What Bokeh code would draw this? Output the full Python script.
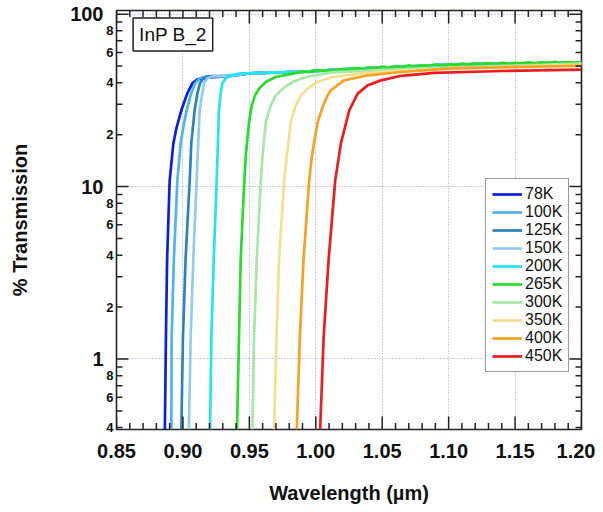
from bokeh.plotting import figure
from bokeh.models import (FixedTicker, LogAxis, Label, PrintfTickFormatter,
                          CustomJSTickFormatter, Range1d, Arrow, ColumnDataSource)
from bokeh.embed import file_html
from bokeh.resources import INLINE

FONT = "Liberation Sans"

# ---------------- data ----------------
series_names = ["78K", "100K", "125K", "150K", "200K", "265K", "300K", "350K", "400K", "450K"]
series_colors = ["#0a1ee6", "#4fb3ec", "#2b82c0", "#90ccf2", "#20e6f0",
                 "#28dc28", "#a6e8a6", "#f2e08c", "#f7a021", "#ee1c1c"]

wl_78K = [0.8864, 0.8872, 0.8881, 0.8900, 0.8928, 0.8952, 0.8988, 0.9033, 0.9071, 0.9109, 0.9209,
          0.9360, 0.9511, 0.9888, 1.0265, 1.0642, 1.1019, 1.1396, 1.2000]
tr_78K = [0.39, 1.33, 3.81, 10.8, 17.8, 22.0, 27.7, 34.7, 39.7, 41.9, 43.0,
          43.9, 45.4, 46.3, 48.2, 49.5, 50.9, 51.6, 52.2]

wl_100K = [0.8913, 0.8915, 0.8932, 0.8958, 0.8983, 0.9002, 0.9028, 0.9062, 0.9092, 0.9126, 0.9179,
           0.9360, 0.9511, 0.9888, 1.0265, 1.0642, 1.1019, 1.1396, 1.2000]
tr_100K = [0.39, 1.33, 3.81, 10.8, 17.8, 22.0, 27.7, 34.7, 39.7, 42.5, 43.6,
           43.9, 45.4, 46.3, 48.2, 49.5, 50.9, 51.6, 52.2]

wl_125K = [0.8988, 0.9000, 0.9020, 0.9051, 0.9063, 0.9088, 0.9109, 0.9128, 0.9154, 0.9196,
           0.9360, 0.9511, 0.9888, 1.0265, 1.0642, 1.1019, 1.1396, 1.2000]
tr_125K = [0.39, 1.33, 3.81, 10.8, 17.8, 27.7, 34.7, 39.7, 42.5, 43.6,
           43.9, 45.4, 46.3, 48.2, 49.5, 50.9, 51.6, 52.2]

wl_150K = [0.9045, 0.9058, 0.9078, 0.9103, 0.9115, 0.9126, 0.9146, 0.9158, 0.9184, 0.9234,
           0.9360, 0.9511, 0.9888, 1.0265, 1.0642, 1.1019, 1.1396, 1.2000]
tr_150K = [0.39, 1.33, 3.81, 10.8, 17.8, 27.7, 34.7, 39.7, 42.5, 43.6,
           43.9, 45.4, 46.3, 48.2, 49.5, 50.9, 51.6, 52.2]

wl_200K = [0.9204, 0.9214, 0.9232, 0.9254, 0.9271, 0.9284, 0.9297, 0.9322, 0.9360, 0.9435,
           0.9586, 0.9888, 1.0265, 1.0642, 1.1019, 1.1396, 1.2000]
tr_200K = [0.39, 1.33, 3.81, 10.8, 27.7, 34.7, 39.7, 42.5, 44.2, 45.4,
           45.6, 46.3, 48.2, 49.5, 50.9, 51.6, 52.2]

wl_265K = [0.9407, 0.9422, 0.9435, 0.9462, 0.9473, 0.9498, 0.9518, 0.9543, 0.9573, 0.9624, 0.9699,
           0.9825, 0.9888,
           0.990, 0.995, 1.000, 1.005, 1.010, 1.015, 1.020, 1.025, 1.030, 1.035, 1.040, 1.045,
           1.050, 1.055, 1.060, 1.065, 1.070, 1.075, 1.080, 1.085, 1.090, 1.095, 1.100, 1.105,
           1.110, 1.115, 1.120, 1.125, 1.130, 1.135, 1.140, 1.145, 1.150, 1.155, 1.160, 1.165,
           1.170, 1.175, 1.180, 1.185, 1.190, 1.195, 1.200]
tr_265K = [0.39, 1.33, 3.81, 10.8, 15.1, 23.7, 29.6, 33.8, 37.0, 40.4, 43.2,
           45.2, 46.2,
           46.6, 46.1, 47.3, 46.8, 47.4, 47.0, 48.2, 47.5, 48.6, 47.9, 48.8, 48.5,
           49.6, 48.8, 49.9, 49.2, 50.5, 49.6, 50.4, 50.2, 51.1, 50.2, 51.2, 50.8,
           51.6, 50.9, 51.7, 51.3, 52.0, 51.2, 52.3, 51.5, 52.2, 51.8, 52.6, 51.9,
           52.5, 52.0, 52.9, 52.1, 52.7, 52.3, 52.6]

wl_300K = [0.9523, 0.9535, 0.9556, 0.9586, 0.9599, 0.9624, 0.9661, 0.9699, 0.9750, 0.9825, 0.9925,
           1.0114, 1.0793, 1.2000]
tr_300K = [0.39, 1.33, 3.81, 10.8, 15.1, 23.7, 29.6, 33.8, 37.0, 40.4, 43.2,
           46.0, 48.5, 51.6]

wl_350K = [0.9686, 0.9704, 0.9724, 0.9762, 0.9782, 0.9812, 0.9850, 0.9888, 0.9938, 1.0014, 1.0127,
           1.0416, 1.1019, 1.2000]
tr_350K = [0.39, 1.33, 3.81, 10.8, 15.1, 23.7, 29.6, 33.8, 37.0, 40.4, 43.2,
           46.0, 48.5, 50.9]

wl_400K = [0.9857, 0.9880, 0.9908, 0.9950, 0.9971, 1.0014, 1.0056, 1.0089, 1.0114, 1.0212, 1.0391,
           1.0642, 1.1019, 1.2000]
tr_400K = [0.39, 1.33, 3.81, 10.8, 15.1, 23.7, 29.6, 33.8, 36.2, 41.3, 44.2,
           46.2, 48.5, 50.2]

wl_450K = [1.0033, 1.0059, 1.0097, 1.0146, 1.0189, 1.0252, 1.0315, 1.0391, 1.0491, 1.0642, 1.0893,
           1.1396, 1.2000]
tr_450K = [0.39, 1.33, 3.81, 10.8, 17.8, 27.7, 34.6, 38.7, 41.3, 43.9, 45.6,
           46.8, 47.7]

wavelengths = [wl_78K, wl_100K, wl_125K, wl_150K, wl_200K, wl_265K, wl_300K, wl_350K, wl_400K, wl_450K]
transmissions = [tr_78K, tr_100K, tr_125K, tr_150K, tr_200K, tr_265K, tr_300K, tr_350K, tr_400K, tr_450K]

x_major_ticks = [0.85, 0.90, 0.95, 1.00, 1.05, 1.10, 1.15, 1.20]
x_minor_ticks = [0.86, 0.87, 0.88, 0.89, 0.91, 0.92, 0.93, 0.94, 0.96, 0.97, 0.98, 0.99,
                 1.01, 1.02, 1.03, 1.04, 1.06, 1.07, 1.08, 1.09, 1.11, 1.12, 1.13, 1.14,
                 1.16, 1.17, 1.18, 1.19]
x_grid_ticks = [0.90, 0.95, 1.00, 1.05, 1.10, 1.15]
y_major_ticks = [1, 10, 100]
y_minor_ticks = [0.4, 0.5, 0.6, 0.7, 0.8, 0.9, 2, 3, 4, 5, 6, 7, 8, 9,
                 20, 30, 40, 50, 60, 70, 80, 90]
y_minor_label_vals = [0.4, 0.6, 0.8, 2, 4, 6, 8, 20, 40, 60, 80]
y_minor_label_text = ["4", "6", "8", "2", "4", "6", "8", "2", "4", "6", "8"]

X0, X1 = 0.85, 1.20
Y0, Y1 = 0.39, 105

# ---------------- figure ----------------
p = figure(width=595, height=508, x_range=Range1d(X0, X1), y_range=Range1d(Y0, Y1),
           y_axis_type="log", output_backend="svg", toolbar_location=None,
           min_border_left=116, min_border_right=14, min_border_top=10, min_border_bottom=79)
p.background_fill_color = "white"
p.border_fill_color = "white"
p.outline_line_color = "#222222"
p.outline_line_width = 1.6

# grid
p.xgrid.ticker = FixedTicker(ticks=x_grid_ticks)
p.ygrid.ticker = FixedTicker(ticks=y_major_ticks)
for g in (p.xgrid, p.ygrid):
    g.grid_line_color = "#9a9ae0"
    g.grid_line_dash = "1 2"
    g.grid_line_width = 1

for name, col, xs, ys in zip(series_names, series_colors, wavelengths, transmissions):
    p.line(xs, ys, line_color=col, line_width=2.7, legend_label=name)

# inward tick marks on all four sides, drawn as head-less arrow annotations
VMAJ, VMIN = 1.19, 1.09      # ~13 px and ~7 px along the log axis
HMAJ, HMIN = 0.009, 0.0045   # ~12 px and ~6 px along the wavelength axis
tx0, ty0, tx1, ty1 = [], [], [], []
for xs, f in ((x_major_ticks, VMAJ), (x_minor_ticks, VMIN)):
    for xv in xs:
        tx0 += [xv, xv]
        ty0 += [Y0, Y1]
        tx1 += [xv, xv]
        ty1 += [Y0 * f, Y1 / f]
for ys, d in ((y_major_ticks, HMAJ), (y_minor_ticks, HMIN)):
    for yv in ys:
        tx0 += [X0, X1]
        ty0 += [yv, yv]
        tx1 += [X0 + d, X1 - d]
        ty1 += [yv, yv]
tick_src = ColumnDataSource(dict(x0=tx0, y0=ty0, x1=tx1, y1=ty1))
p.add_layout(Arrow(start=None, end=None, x_start="x0", y_start="y0", x_end="x1", y_end="y1",
                   source=tick_src, line_color="#222222", line_width=1.5))

def no_ticks(ax):
    ax.major_tick_in = 0
    ax.major_tick_out = 0
    ax.minor_tick_in = 0
    ax.minor_tick_out = 0
    ax.major_tick_line_color = None
    ax.minor_tick_line_color = None
    ax.axis_line_color = None

# bottom axis
xa = p.xaxis[0]
no_ticks(xa)
xa.ticker = FixedTicker(ticks=x_major_ticks)
xa.formatter = PrintfTickFormatter(format="%.2f")
xa.major_label_text_font = FONT
xa.major_label_text_font_style = "bold"
xa.major_label_text_font_size = "20px"
xa.major_label_text_color = "#111111"
xa.major_label_standoff = 14
xa.axis_label = "Wavelength (µm)"
xa.axis_label_text_font = FONT
xa.axis_label_text_font_style = "bold"
xa.axis_label_text_font_size = "20px"
xa.axis_label_text_color = "#111111"
xa.axis_label_standoff = 21

# inner left axis: small mantissa labels at 2, 4, 6, 8
ya = p.yaxis[0]
no_ticks(ya)
ya.ticker = FixedTicker(ticks=y_minor_label_vals)
ya.formatter = CustomJSTickFormatter(
    args=dict(vals=y_minor_label_vals, labs=y_minor_label_text),
    code="""
let best = 0, d = Infinity;
for (let i = 0; i < vals.length; i++) {
  const e = Math.abs(Math.log10(vals[i]) - Math.log10(tick));
  if (e < d) { d = e; best = i; }
}
return labs[best];
""")
ya.major_label_text_font = FONT
ya.major_label_text_font_style = "bold"
ya.major_label_text_font_size = "13px"
ya.major_label_text_color = "#111111"
ya.major_label_standoff = 3

# outer left axis: decade labels and title
ya2 = LogAxis()
no_ticks(ya2)
ya2.ticker = FixedTicker(ticks=y_major_ticks)
ya2.formatter = PrintfTickFormatter(format="%d")
ya2.major_label_text_font = FONT
ya2.major_label_text_font_style = "bold"
ya2.major_label_text_font_size = "20px"
ya2.major_label_text_color = "#111111"
ya2.major_label_standoff = 0
ya2.axis_label = "% Transmission"
ya2.axis_label_text_font = FONT
ya2.axis_label_text_font_style = "bold"
ya2.axis_label_text_font_size = "20px"
ya2.axis_label_text_color = "#111111"
ya2.axis_label_standoff = 36
p.add_layout(ya2, "left")

# sample label box
p.add_layout(Label(x=0.8625, y=95, text="InP B_2", text_font=FONT, text_font_size="19px",
                   text_align="left", text_baseline="top", text_color="#111111",
                   border_line_color="#222222", border_line_width=1.5,
                   background_fill_color="white", padding=6))

# legend
lg = p.legend[0]
lg.location = (369, 57)
lg.border_line_color = "#333333"
lg.border_line_width = 1.2
lg.background_fill_color = "white"
lg.background_fill_alpha = 1
lg.label_text_font = FONT
lg.label_text_font_size = "16px"
lg.label_text_color = "#111111"
lg.glyph_width = 30
lg.glyph_height = 18
lg.label_height = 18
lg.label_standoff = 3
lg.spacing = 0
lg.padding = 6
lg.margin = 0

open("out.html", "w").write(file_html(p, INLINE))
